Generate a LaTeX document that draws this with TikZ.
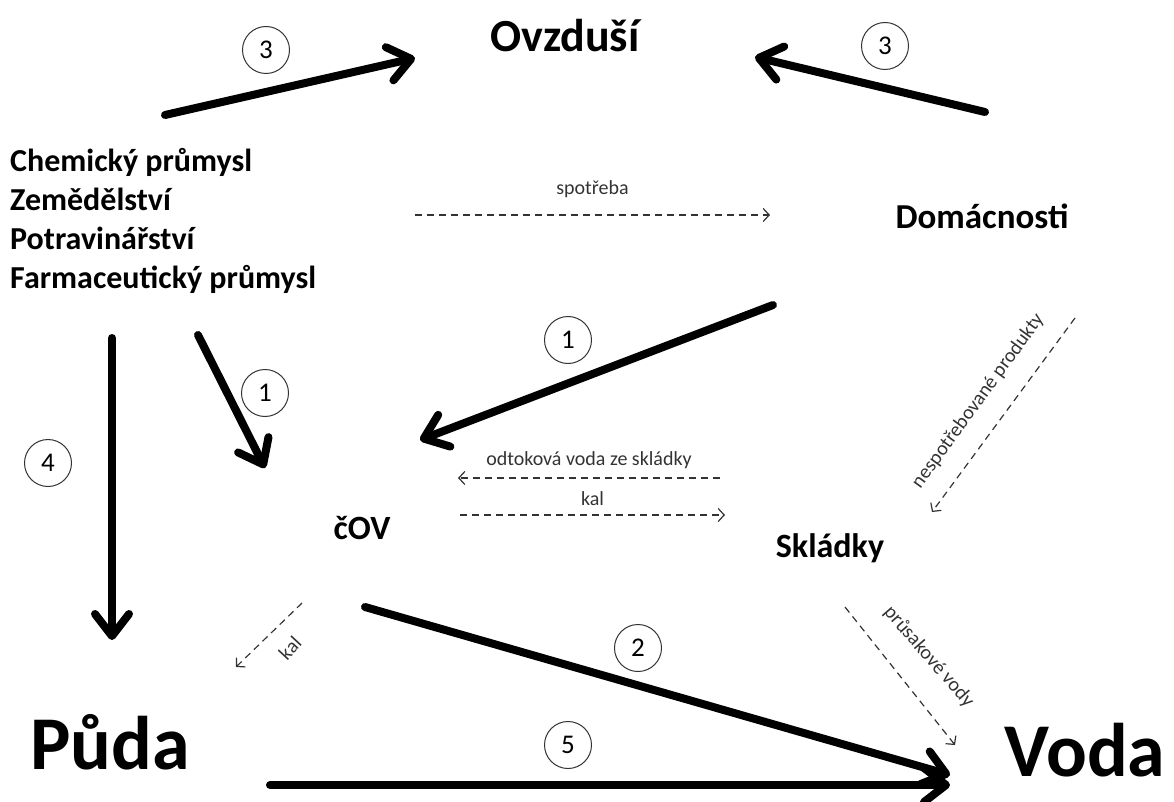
\documentclass[tikz,border=0pt]{standalone}
\usepackage{fontspec}
\setmainfont{Carlito}
\usetikzlibrary{arrows.meta}

\tikzstyle{sphere}=[font={\bfseries\fontsize{46}{50}\selectfont}]
\tikzstyle{ground}=[font={\bfseries\fontsize{76}{84}\selectfont}]
\tikzstyle{place}=[font={\bfseries\fontsize{34}{40}\selectfont}, inner sep=0pt]
\tikzstyle{note}=[font={\fontsize{20}{24}\selectfont}, text=black!80, inner sep=1pt]
\tikzstyle{krok}=[circle, draw=black!80, line width=1pt, minimum size=47pt, inner sep=0pt,
    font={\fontsize{27}{27}\selectfont}]
\tikzstyle{flow}=[line width=8pt, line cap=round, line join=round,
    -{Straight Barb[length=22pt,width=34pt,round]}]
\tikzstyle{side flow}=[draw=black!80, line width=1.2pt, dash pattern=on 7pt off 5pt,
    -{Straight Barb[length=6pt,width=13pt]}]

\begin{document}
\begin{tikzpicture}[x=1pt,y=-1pt]
    \useasboundingbox (0,0) rectangle (1174,802);

    % places
    \node[sphere] (ovzdusi) at (565,36) {Ovzduší};
    \node[ground] (puda) at (110,742) {Půda};
    \node[ground] (voda) at (1085,750) {Voda};
    \node[place,anchor=west,align=left,font={\bfseries\fontsize{32}{39}\selectfont}] (prumysl)
        at (10,221) {Chemický průmysl\\Zemědělství\\Potravinářství\\Farmaceutický průmysl};
    \node[place,font={\bfseries\fontsize{35}{40}\selectfont}] (domacnosti) at (982,216) {Domácnosti};
    \node[place] (cov) at (362,528) {čOV};
    \node[place] (skladky) at (830,548) {Skládky};

    % ends of the main flows
    \coordinate (p3) at (165,115);  \coordinate (o3a) at (415,58);
    \coordinate (d3) at (985,112);  \coordinate (o3b) at (755,57);
    \coordinate (d1) at (773,305);  \coordinate (c1a) at (420,440);
    \coordinate (p1) at (198,335);  \coordinate (c1b) at (265,468);
    \coordinate (p4) at (112,338);  \coordinate (u4) at (112,640);
    \coordinate (c2) at (365,607);  \coordinate (v2) at (950,775);
    \coordinate (u5) at (270,785);  \coordinate (v5) at (950,785);

    \foreach \s/\t in {p3/o3a, d3/o3b, d1/c1a, p1/c1b, p4/u4, c2/v2, u5/v5}
        \draw[flow] (\s) -- (\t);

    \foreach \n/\p/\t in {k3a/{266,50}/3, k3b/{885,46}/3, k1a/{568,340}/1,
        k1b/{265,393}/1, k4/{48,463}/4, k2/{638,648}/2, k5/{568,745}/5}
        \node[krok] (\n) at (\p) {\t};

    % ends of the side flows
    \coordinate (pv) at (415,215);   \coordinate (dv) at (770,215);
    \coordinate (so) at (720,478);   \coordinate (co) at (458,478);
    \coordinate (ck) at (460,515);   \coordinate (sk) at (725,515);
    \coordinate (dn) at (1075,318);  \coordinate (sn) at (932,512);
    \coordinate (cu) at (302,603);   \coordinate (uk) at (236,667);
    \coordinate (sp) at (845,607);   \coordinate (vp) at (955,745);

    \draw[side flow] (pv) -- node[note,above=16pt] (l-spotreba) {spotřeba} (dv);
    \draw[side flow] (so) -- node[note,above=8pt] (l-odtok) {odtoková voda ze skládky} (co);
    \draw[side flow] (ck) -- node[note,above=8pt] (l-kal) {kal} (sk);
    \draw[side flow] (dn) -- (sn);
    \draw[side flow] (cu) -- (uk);
    \draw[side flow] (sp) -- (vp);

    \node[note,rotate=54] (l-nespotreba) at (978,401) {nespotřebované produkty};
    \node[note,rotate=47] (l-kal2) at (290,648) {kal};
    \node[note,rotate=-49] (l-prusak) at (929,657) {průsakové vody};

\end{tikzpicture}
\end{document}
